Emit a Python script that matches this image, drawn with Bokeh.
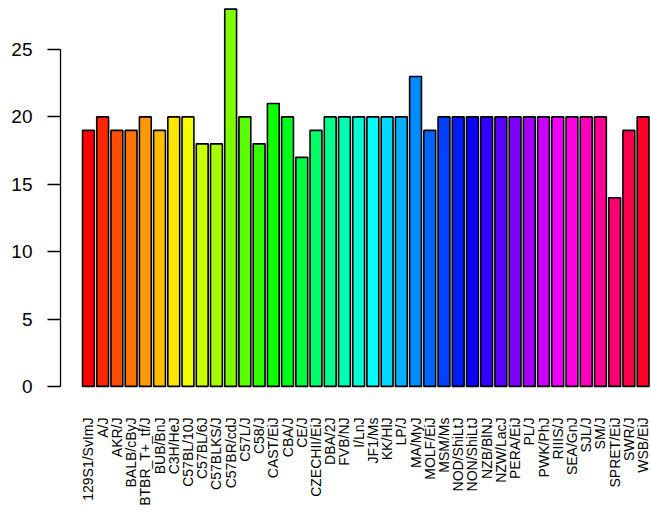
import colorsys
import math
from bokeh.plotting import figure
from bokeh.models import Range1d, FixedTicker, ColumnDataSource
from bokeh.embed import file_html
from bokeh.resources import INLINE

strains = ["129S1/SvImJ", "A/J", "AKR/J", "BALB/cByJ", "BTBR_T+_tf/J", "BUB/BnJ",
           "C3H/HeJ", "C57BL/10J", "C57BL/6J", "C57BLKS/J", "C57BR/cdJ", "C57L/J",
           "C58/J", "CAST/EiJ", "CBA/J", "CE/J", "CZECHII/EiJ", "DBA/2J", "FVB/NJ",
           "I/LnJ", "JF1/Ms", "KK/HlJ", "LP/J", "MA/MyJ", "MOLF/EiJ", "MSM/Ms",
           "NOD/ShiLtJ", "NON/ShiLtJ", "NZB/BlNJ", "NZW/LacJ", "PERA/EiJ", "PL/J",
           "PWK/PhJ", "RIIIS/J", "SEA/GnJ", "SJL/J", "SM/J", "SPRET/EiJ", "SWR/J",
           "WSB/EiJ"]
counts = [19, 20, 19, 19, 20, 19, 20, 20, 18, 18, 28, 20, 18, 21, 20, 17, 19, 20, 20,
          20, 20, 20, 20, 23, 19, 20, 20, 20, 20, 20, 20, 20, 20, 20, 20, 20, 20, 14, 19,
          20]
y_ticks = [0, 5, 10, 15, 20, 25]

n = len(strains)
# R-style rainbow palette
colors = []
for i in range(n):
    r, g, b = colorsys.hsv_to_rgb(i / n, 1.0, 1.0)
    colors.append("#%02x%02x%02x" % (round(r * 255), round(g * 255), round(b * 255)))

# barplot positions: width 1, space 0.2
centers = [0.7 + 1.2 * i for i in range(n)]

src = ColumnDataSource(dict(x=centers, top=counts, color=colors, name=strains))

p = figure(width=651, height=514, output_backend="svg", toolbar_location=None,
           x_range=Range1d(-1.657, 48.21), y_range=Range1d(-1.12, 28.64),
           min_border_left=60, min_border_right=0, min_border_top=0,
           min_border_bottom=113)
p.outline_line_color = None
p.xgrid.visible = False
p.ygrid.visible = False
p.background_fill_color = "white"

p.vbar(x="x", top="top", bottom=0, width=1.0, fill_color="color",
       line_color="black", line_width=1.6, source=src)

font = "Liberation Sans"

ya = p.yaxis[0]
ya.ticker = FixedTicker(ticks=y_ticks)
ya.bounds = (0, 25)
ya.axis_line_color = "black"
ya.axis_line_width = 1.3
ya.major_tick_line_color = "black"
ya.major_tick_line_width = 1.3
ya.major_tick_out = 13
ya.major_tick_in = 0
ya.minor_tick_line_color = None
ya.major_label_standoff = 15
ya.major_label_text_font = font
ya.major_label_text_font_size = "19px"
ya.major_label_text_color = "black"

xa = p.xaxis[0]
xa.ticker = FixedTicker(ticks=centers)
xa.major_label_overrides = {c: s for c, s in zip(centers, strains)}
xa.axis_line_color = None
xa.major_tick_line_color = None
xa.minor_tick_line_color = None
xa.major_tick_out = 0
xa.major_tick_in = 0
xa.major_label_standoff = 16
xa.major_label_orientation = math.pi / 2
xa.major_label_text_font = font
xa.major_label_text_font_size = "14px"
xa.major_label_text_color = "black"

open("out.html", "w").write(file_html(p, INLINE))
